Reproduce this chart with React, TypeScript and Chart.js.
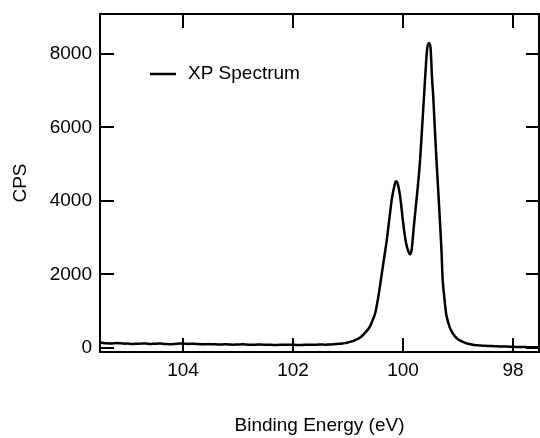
import React, { useEffect, useRef } from 'react';
import { Chart, registerables } from 'chart.js';

Chart.register(...registerables);

const energies = [
  105.55, 105.5, 105.45, 105.4, 105.35, 105.3, 105.25, 105.2, 105.15, 105.1, 105.05, 105.0,
  104.95, 104.9, 104.85, 104.8, 104.75, 104.7, 104.65, 104.6, 104.55, 104.5, 104.45, 104.4,
  104.35, 104.3, 104.25, 104.2, 104.15, 104.1, 104.05, 104.0, 103.95, 103.9, 103.85, 103.8,
  103.75, 103.7, 103.65, 103.6, 103.55, 103.5, 103.45, 103.4, 103.35, 103.3, 103.25, 103.2,
  103.15, 103.1, 103.05, 103.0, 102.95, 102.9, 102.85, 102.8, 102.75, 102.7, 102.65, 102.6,
  102.55, 102.5, 102.45, 102.4, 102.35, 102.3, 102.25, 102.2, 102.15, 102.1, 102.05, 102.0,
  101.95, 101.9, 101.85, 101.8, 101.75, 101.7, 101.65, 101.6, 101.55, 101.5, 101.45, 101.4,
  101.35, 101.3, 101.25, 101.2, 101.15, 101.1, 101.05, 101.0, 100.95, 100.9, 100.85, 100.8,
  100.75, 100.7, 100.65, 100.6, 100.55, 100.5, 100.45, 100.4, 100.35, 100.3, 100.25, 100.2,
  100.15, 100.13, 100.1, 100.05, 100.0, 99.95, 99.9, 99.87, 99.84, 99.8, 99.75, 99.7,
  99.65, 99.6, 99.56, 99.53, 99.5, 99.47, 99.45, 99.42, 99.4, 99.36, 99.33, 99.3,
  99.28, 99.25, 99.22, 99.2, 99.15, 99.1, 99.05, 99.0, 98.95, 98.9, 98.85, 98.8,
  98.75, 98.7, 98.65, 98.6, 98.55, 98.5, 98.45, 98.4, 98.35, 98.3, 98.25, 98.2,
  98.15, 98.1, 98.05, 98.0, 97.95, 97.9, 97.85, 97.8, 97.75, 97.7, 97.65, 97.6,
  97.55, 97.5,
];

const cps = [
  145, 150, 138, 130, 125, 120, 132, 135, 128, 125, 118, 120,
  112, 110, 117, 115, 122, 125, 116, 110, 113, 115, 121, 120,
  112, 110, 103, 105, 112, 115, 125, 120, 115, 110, 116, 115,
  108, 105, 99, 100, 106, 105, 102, 100, 96, 95, 99, 100,
  94, 90, 93, 95, 98, 100, 94, 90, 86, 85, 92, 95,
  91, 90, 86, 85, 82, 80, 86, 90, 88, 85, 89, 90,
  84, 80, 83, 85, 88, 90, 86, 85, 91, 95, 92, 90,
  94, 98, 104, 110, 115, 122, 135, 150, 172, 195, 225, 265,
  320, 400, 480, 590, 760, 980, 1380, 1870, 2380, 2880, 3490, 4080,
  4450, 4540, 4490, 4100, 3450, 2900, 2620, 2550, 2700, 3350, 4100, 4900,
  6050, 7290, 8150, 8300, 8180, 7290, 6850, 5930, 5350, 4300, 3500, 2650,
  1900, 1400, 980, 820, 560, 410, 310, 240, 195, 160, 130, 110,
  95, 80, 75, 68, 62, 60, 55, 52, 50, 47, 44, 42,
  40, 38, 35, 32, 30, 28, 27, 25, 24, 22, 22, 20,
  20, 18,
];

const xTickValues = [104, 102, 100, 98];
const yTickValues = [0, 2000, 4000, 6000, 8000];
const seriesLabel = 'XP Spectrum';
const xTitle = 'Binding Energy (eV)';
const yTitle = 'CPS';

const FONT = "'Liberation Sans', Arial, Helvetica, sans-serif";

const framePlugin = {
  id: 'igorFrame',
  afterDraw(chart: any) {
    const { ctx, chartArea } = chart;
    const { left, right, top, bottom } = chartArea;
    const xs = chart.scales.x;
    const ys = chart.scales.y;
    const tickLen = 14;
    ctx.save();
    ctx.strokeStyle = '#000';
    ctx.lineWidth = 2;
    ctx.strokeRect(left, top, right - left, bottom - top);
    ctx.beginPath();
    xTickValues.forEach((v) => {
      const px = Math.round(xs.getPixelForValue(v));
      ctx.moveTo(px, bottom);
      ctx.lineTo(px, bottom - tickLen);
      ctx.moveTo(px, top);
      ctx.lineTo(px, top + tickLen);
    });
    yTickValues.forEach((v) => {
      const py = Math.round(ys.getPixelForValue(v));
      ctx.moveTo(left, py);
      ctx.lineTo(left + tickLen, py);
      ctx.moveTo(right, py);
      ctx.lineTo(right - tickLen + 1, py);
    });
    ctx.stroke();

    // legend
    const ds = chart.data.datasets[0];
    ctx.lineWidth = 2.5;
    ctx.beginPath();
    ctx.moveTo(150, 74);
    ctx.lineTo(176, 74);
    ctx.stroke();
    ctx.fillStyle = '#000';
    ctx.font = `19px ${FONT}`;
    ctx.textBaseline = 'middle';
    ctx.textAlign = 'left';
    ctx.fillText(ds.label, 188, 74);
    ctx.restore();
  },
};

export default function App() {
  const ref = useRef<HTMLCanvasElement>(null);

  useEffect(() => {
    document.body.style.margin = '0';
    const canvas = ref.current;
    if (!canvas) return;
    const chart = new Chart(canvas, {
      type: 'line',
      data: {
        datasets: [
          {
            label: seriesLabel,
            data: energies.map((e, i) => ({ x: e, y: cps[i] })),
            borderColor: '#000',
            borderWidth: 2.5,
            pointRadius: 0,
            fill: false,
            cubicInterpolationMode: 'monotone',
          },
        ],
      },
      options: {
        animation: false,
        responsive: false,
        devicePixelRatio: 1,
        layout: { padding: { top: 14, right: 1, left: 0, bottom: 0 } },
        plugins: {
          legend: { display: false },
          tooltip: { enabled: false },
        },
        scales: {
          x: {
            type: 'linear',
            reverse: true,
            min: 97.527,
            max: 105.509,
            afterFit: (s: any) => {
              s.height = 86;
              s.paddingLeft = 0;
              s.paddingRight = 0;
            },
            afterBuildTicks: (s: any) => {
              s.ticks = xTickValues.map((v) => ({ value: v }));
            },
            grid: { display: false, drawTicks: false },
            border: { display: false },
            ticks: {
              color: '#000',
              font: { family: FONT, size: 19 },
              padding: 7,
              maxRotation: 0,
              autoSkip: false,
              callback: (v: any) => String(v),
            },
            title: {
              display: true,
              text: xTitle,
              color: '#000',
              font: { family: FONT, size: 19 },
              padding: { top: 0, bottom: 1 },
            },
          },
          y: {
            type: 'linear',
            min: -109,
            max: 9088,
            afterFit: (s: any) => {
              s.width = 100;
              s.paddingTop = 0;
              s.paddingBottom = 0;
            },
            afterBuildTicks: (s: any) => {
              s.ticks = yTickValues.map((v) => ({ value: v }));
            },
            grid: { display: false, drawTicks: false },
            border: { display: false },
            ticks: {
              color: '#000',
              font: { family: FONT, size: 19 },
              padding: 8,
              autoSkip: false,
              callback: (v: any) => String(v),
            },
            title: {
              display: true,
              text: yTitle,
              color: '#000',
              font: { family: FONT, size: 19 },
              padding: { top: 9, bottom: 0 },
            },
          },
        },
      },
      plugins: [framePlugin],
    });
    return () => chart.destroy();
  }, []);

  return <canvas ref={ref} width={540} height={438} style={{ display: 'block' }} />;
}
